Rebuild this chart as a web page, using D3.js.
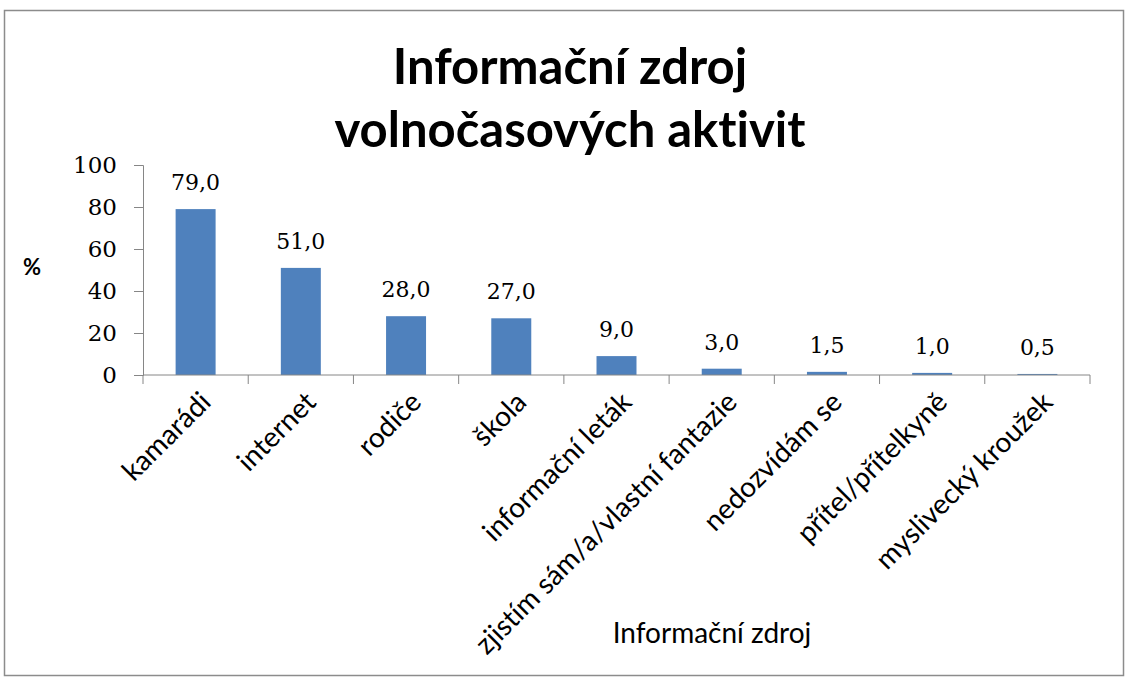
<!DOCTYPE html>
<html>
<head>
<meta charset="utf-8">
<script src="https://cdn.jsdelivr.net/npm/d3@7"></script>
<style>
  body { margin: 0; background: #fff; }
  svg { display: block; }
  text { font-variant-ligatures: none; font-feature-settings: "liga" 0; }
</style>
</head>
<body>
<div id="chart"></div>
<script>
var width = 1126,
height = 679;

// data
var categories = ['kamarádi', 'internet', 'rodiče', 'škola', 'informační leták',
  'zjistím sám/a/vlastní fantazie', 'nedozvídám se', 'přítel/přítelkyně', 'myslivecký kroužek'];
var values = [79.0, 51.0, 28.0, 27.0, 9.0, 3.0, 1.5, 1.0, 0.5];
var yTicks = [0, 20, 40, 60, 80, 100];
var titleLines = ['Informační zdroj', 'volnočasových aktivit'];

var plot = { left: 143, right: 1090, top: 165, bottom: 375 };
var sans = 'Lato, "Open Sans", sans-serif';
var serif = '"DejaVu Serif", "Liberation Serif", serif';

const svg = d3.select('#chart').
append('svg').
attr('width', width).
attr('height', height);

// chart frame
svg.append('rect').
attr('x', 4.5).
attr('y', 10.5).
attr('width', 1119).
attr('height', 665).
attr('fill', '#fff').
attr('stroke', '#8c8c8c').
attr('stroke-width', 1.5);

const xScale = d3.scaleBand().
domain(categories).
range([plot.left, plot.right]).
paddingInner(0.62).
paddingOuter(0.31);

const yScale = d3.scaleLinear().
domain([0, 100]).
range([plot.bottom, plot.top]);

// title
svg.selectAll('.title').
data(titleLines).
enter().
append('text').
attr('class', 'title').
attr('x', 570).
attr('y', (d, i) => 84 + i * 63).
attr('text-anchor', 'middle').
attr('font-family', sans).
attr('font-weight', 'bold').
attr('font-size', '49px').
attr('fill', '#000').
text(d => d);

// bars
svg.selectAll('.bar').
data(values).
enter().
append('rect').
attr('class', 'bar').
attr('x', (d, i) => xScale(categories[i])).
attr('y', d => yScale(d)).
attr('width', xScale.bandwidth()).
attr('height', d => yScale(0) - yScale(d)).
attr('fill', '#4f81bd');

// value labels
svg.selectAll('.val').
data(values).
enter().
append('text').
attr('class', 'val').
attr('x', (d, i) => xScale(categories[i]) + xScale.bandwidth() / 2).
attr('y', d => yScale(d) - 19).
attr('text-anchor', 'middle').
attr('font-family', serif).
attr('font-size', '22px').
attr('fill', '#000').
text(d => d.toFixed(1).replace('.', ','));

// y axis
const yAxis = d3.axisLeft(yScale).
tickValues(yTicks).
tickSize(9).
tickPadding(17);

const gy = svg.append('g').
attr('transform', 'translate(' + plot.left + ',0)').
call(yAxis);
gy.select('.domain').attr('stroke', '#868686');
gy.selectAll('.tick line').attr('stroke', '#868686');
gy.selectAll('.tick text').
attr('font-family', serif).
attr('font-size', '23px').
attr('fill', '#000');

// x axis: ticks between categories
const gx = svg.append('g').
attr('transform', 'translate(0,' + plot.bottom + ')');
gx.append('line').
attr('x1', plot.left).
attr('x2', plot.right).
attr('stroke', '#868686');
var step = xScale.step();
gx.selectAll('.xt').
data(d3.range(categories.length + 1)).
enter().
append('line').
attr('class', 'xt').
attr('x1', d => plot.left + d * step).
attr('x2', d => plot.left + d * step).
attr('y1', 0).
attr('y2', 9).
attr('stroke', '#868686');

gx.selectAll('.xl').
data(categories).
enter().
append('text').
attr('class', 'xl').
attr('transform', d => 'translate(' + (xScale(d) + xScale.bandwidth() / 2 + 3) + ',15) rotate(-45)').
attr('text-anchor', 'end').
attr('dy', '0.7em').
attr('font-family', sans).
attr('font-size', '28px').
attr('fill', '#000').
text(d => d);

// axis titles
svg.append('text').
attr('x', 32).
attr('y', 275).
attr('text-anchor', 'middle').
attr('font-family', sans).
attr('font-weight', 'bold').
attr('font-size', '22px').
text('%');

svg.append('text').
attr('x', 712).
attr('y', 643).
attr('text-anchor', 'middle').
attr('font-family', sans).
attr('font-size', '28px').
text('Informační zdroj');
</script>
</body>
</html>
